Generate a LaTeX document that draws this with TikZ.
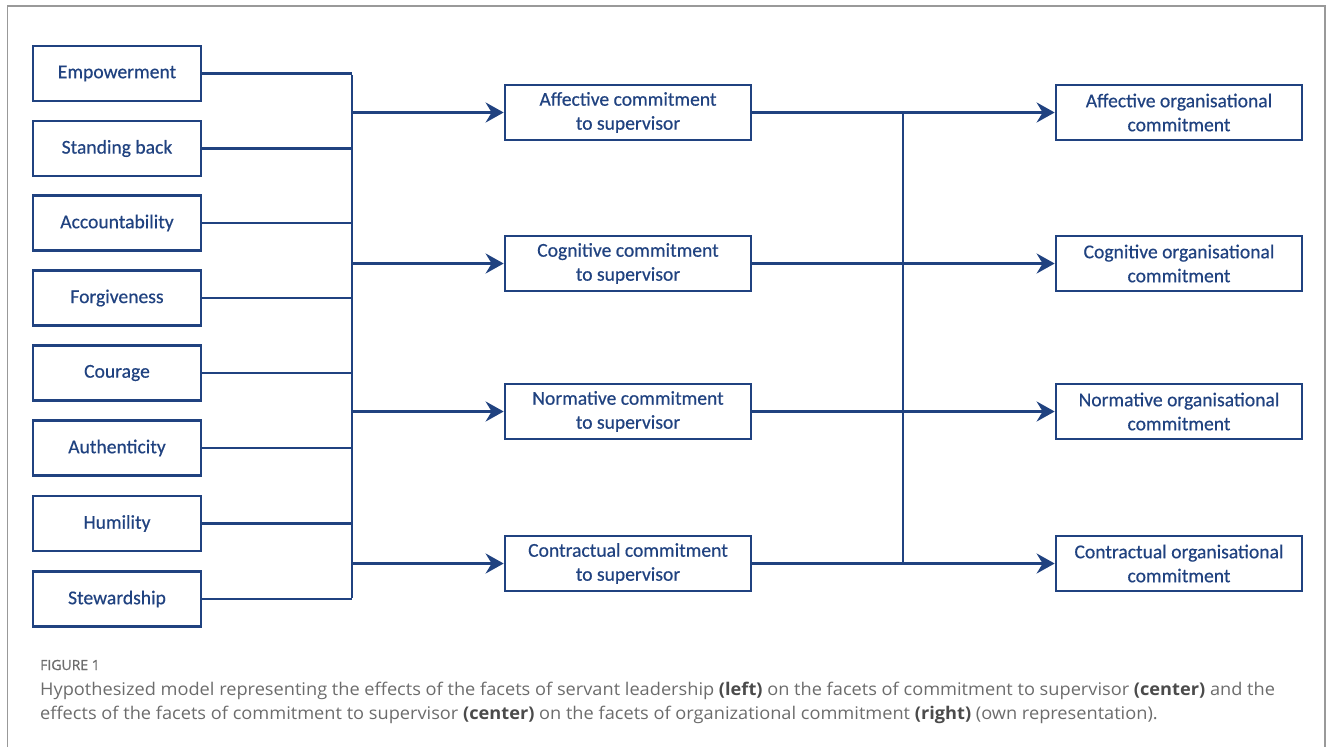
\documentclass[tikz,border=0pt]{standalone}
\usepackage{fontspec}
\setmainfont{Carlito}[FakeBold=0.5]
\newfontfamily\capfont{Open Sans}[FakeStretch=1.04]
\newfontfamily\figfont{Open Sans}[FakeBold=0.8]
\usetikzlibrary{arrows.meta}
\definecolor{dblue}{RGB}{32,66,128}
\definecolor{capgray}{RGB}{108,108,108}
\definecolor{capdark}{RGB}{75,75,75}
\tikzset{
  box/.style={draw=dblue, line width=2.7pt, text=dblue, align=center,
    minimum height=55pt, inner sep=0pt,
    font=\fontsize{19.6}{24}\selectfont},
  lbox/.style={box, minimum width=168pt},
  mbox/.style={box, minimum width=246pt},
  conn/.style={draw=dblue, line width=2.7pt},
  arr/.style={conn, -{Stealth[length=18pt,width=20pt,inset=6pt]}},
  captext/.style={anchor=base west, inner sep=0pt, text=capgray, font=\capfont\fontsize{17.5}{24}\selectfont}
}
\begin{document}
\begin{tikzpicture}[x=1pt,y=-1pt]
\useasboundingbox (0,0) rectangle (1331,747);
\draw[gray!80, line width=1.5pt] (7.5,747) -- (7.5,6) -- (1325,6) -- (1325,747);

% left column
\node[lbox] (emp) at (117,73.5) {Empowerment};
\node[lbox] (sta) at (117,148.5) {Standing back};
\node[lbox] (acc) at (117,223) {Accountability};
\node[lbox] (for) at (117,298) {Forgiveness};
\node[lbox] (cou) at (117,373) {Courage};
\node[lbox] (aut) at (117,448) {Authenticity};
\node[lbox] (hum) at (117,523.5) {Humility};
\node[lbox] (ste) at (117,599) {Stewardship};

% middle column
\node[mbox] (acs) at (628,112.5) {Affective commitment\\to supervisor};
\node[mbox] (ccs) at (628,263.5) {Cognitive commitment\\to supervisor};
\node[mbox] (ncs) at (628,411.5) {Normative commitment\\to supervisor};
\node[mbox] (tcs) at (628,563.5) {Contractual commitment\\to supervisor};

% right column
\node[mbox] (aoc) at (1179,112.5) {Affective organisational\\commitment};
\node[mbox] (coc) at (1179,263.5) {Cognitive organisational\\commitment};
\node[mbox] (noc) at (1179,411.5) {Normative organisational\\commitment};
\node[mbox] (toc) at (1179,563.5) {Contractual organisational\\commitment};

\coordinate (L) at (352,0);
\coordinate (R) at (903,0);

% left to bus
\foreach \n in {emp,sta,acc,for,cou,aut,hum,ste}
  \draw[conn] (\n.east) -- (\n.east -| L);
\draw[conn] ([yshift=-1.35pt]emp.east -| L) -- ([yshift=1.35pt]ste.east -| L);
\foreach \n in {acs,ccs,ncs,tcs}
  \draw[arr] (\n.west -| L) -- (\n.west);

% middle to right bus
\foreach \n in {acs,ccs,ncs,tcs}
  \draw[conn] (\n.east) -- (\n.east -| R);
\draw[conn] ([yshift=-1.35pt]acs.east -| R) -- ([yshift=1.35pt]tcs.east -| R);
\foreach \n in {aoc,coc,noc,toc}
  \draw[arr] (\n.west -| R) -- (\n.west);

% caption
\node[captext, text=capgray, font=\figfont\fontsize{14}{16}\selectfont] (fig) at (40,670) {FIGURE 1};
\node[captext] (c1) at (40,695) {Hypothesized model representing the effects of the facets of servant leadership \textcolor{capdark}{\textbf{(left)}} on the facets of commitment to supervisor \textcolor{capdark}{\textbf{(center)}} and the};
\node[captext] (c2) at (40,719) {effects of the facets of commitment to supervisor \textcolor{capdark}{\textbf{(center)}} on the facets of organizational commitment \textcolor{capdark}{\textbf{(right)}} (own representation).};
\end{tikzpicture}
\end{document}
